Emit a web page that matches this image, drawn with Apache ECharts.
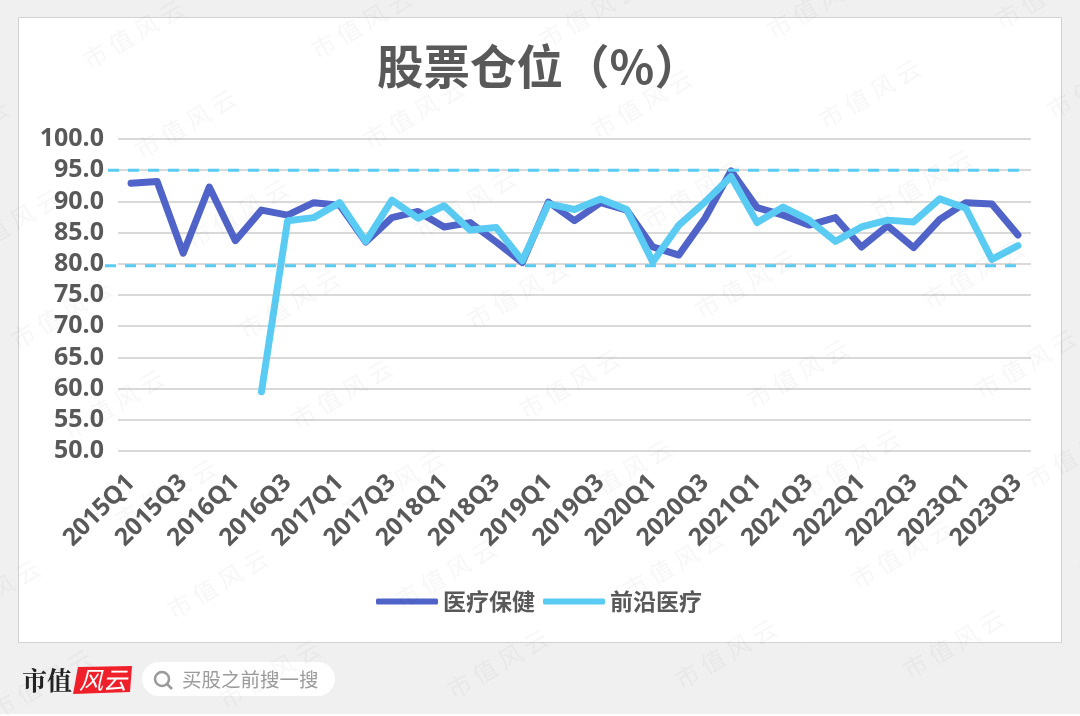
<!DOCTYPE html>
<html>
<head>
<meta charset="utf-8">
<title>股票仓位（%）</title>
<style>
  html, body { margin: 0; padding: 0; background: #fff; }
  #main { width: 1080px; height: 716px; }
</style>
<script src="https://cdn.jsdelivr.net/npm/echarts@6/dist/echarts.min.js"></script>
</head>
<body>
<div id="main"></div>
<script>
var categories = [
  '2015Q1','2015Q2','2015Q3','2015Q4','2016Q1','2016Q2','2016Q3','2016Q4',
  '2017Q1','2017Q2','2017Q3','2017Q4','2018Q1','2018Q2','2018Q3','2018Q4',
  '2019Q1','2019Q2','2019Q3','2019Q4','2020Q1','2020Q2','2020Q3','2020Q4',
  '2021Q1','2021Q2','2021Q3','2021Q4','2022Q1','2022Q2','2022Q3','2022Q4',
  '2023Q1','2023Q2','2023Q3'
];
var healthCare = [
  92.9,93.2,81.7,92.3,83.7,88.6,87.8,89.8,
  89.4,83.5,87.4,88.4,85.9,86.6,83.5,80.2,
  89.9,86.9,89.8,88.6,82.7,81.4,87.3,94.9,
  89.0,87.8,86.2,87.4,82.7,86.1,82.6,87.1,
  89.8,89.6,84.6
];
var frontierMed = [
  null,null,null,null,null,59.5,86.9,87.4,
  89.8,83.6,90.2,87.3,89.3,85.4,85.8,80.5,
  89.6,88.7,90.4,88.7,80.3,86.2,89.9,94.0,
  86.6,89.1,87.0,83.6,85.9,87.0,86.7,90.4,
  88.9,80.7,82.9
];
var upperBand = 95;
var lowerBand = 79.7;

var FONT = '"Open Sans", "Noto Sans CJK SC", sans-serif';
var CJK = '"Noto Sans CJK SC", sans-serif';
var TEXT = '#595959';
var DARK = '#4f63c8';
var LIGHT = '#5accf4';

var chart = echarts.init(document.getElementById('main'));

// 水印
var marks = [];
for (var r = -1; r < 8; r++) {
  for (var c = -2; c < 6; c++) {
    marks.push({
      type: 'text', z: 100, silent: true,
      x: 85 + c * 228 + r * 52, y: 62 - c * 10 + r * 90,
      rotation: Math.PI / 6,
      style: { text: '市 值 风 云', fill: 'rgba(90,90,90,0.05)', font: '24px ' + CJK, textVerticalAlign: 'middle' }
    });
  }
}

var decor = [
  { type: 'rect', z: -3, shape: { x: 0, y: 714, width: 1080, height: 2 }, style: { fill: '#fff' } },
  { type: 'rect', z: -2, shape: { x: 18.5, y: 17.5, width: 1043, height: 625 }, style: { fill: '#fff', stroke: '#d2d2d2', lineWidth: 1 } },
  { type: 'text', x: 22, y: 680, style: { text: '市值', fill: '#222', font: 'bold 25px "Noto Serif CJK SC", ' + CJK, textVerticalAlign: 'middle' } },
  { type: 'polygon', shape: { points: [[78,667],[132,666],[130,692],[73,694]] }, style: { fill: '#f0202a' } },
  { type: 'text', x: 79, y: 680, style: { text: '风云', fill: '#fff', font: 'italic 24px ' + CJK, textVerticalAlign: 'middle' } },
  { type: 'rect', shape: { x: 142, y: 662, width: 193, height: 34, r: 17 }, style: { fill: '#fff' } },
  { type: 'circle', shape: { cx: 162, cy: 679, r: 7 }, style: { fill: 'none', stroke: '#9a9a9a', lineWidth: 2.5 } },
  { type: 'line', shape: { x1: 167, y1: 684, x2: 172, y2: 689 }, style: { stroke: '#9a9a9a', lineWidth: 2.5 } },
  { type: 'text', x: 182, y: 680, style: { text: '买股之前搜一搜', fill: '#9c9c9c', font: '19.5px ' + CJK, textVerticalAlign: 'middle' } }
].concat(marks);

chart.setOption({
  animation: false,
  backgroundColor: '#f0f0f0',
  title: {
    text: '股票仓位（%）',
    left: 534, top: 38, textAlign: 'center',
    textStyle: { color: TEXT, fontFamily: CJK, fontWeight: 'bold', fontSize: 46.5 }
  },
  legend: {
    bottom: 98, left: 371,
    icon: 'roundRect',
    itemWidth: 62, itemHeight: 6, itemGap: 8,
    textStyle: { color: TEXT, fontFamily: CJK, fontWeight: 'bold', fontSize: 23 },
    data: ['医疗保健', '前沿医疗']
  },
  grid: { left: 118, top: 139, width: 913, height: 312 },
  xAxis: {
    type: 'category',
    data: categories,
    axisLine: { show: false },
    axisTick: { show: false },
    axisLabel: { interval: 1, rotate: 45, margin: 28, color: TEXT, fontFamily: FONT, fontWeight: 'bold', fontSize: 24.5 }
  },
  yAxis: {
    type: 'value',
    min: 50, max: 100, interval: 5,
    axisLine: { show: false },
    axisTick: { show: false },
    axisLabel: {
      margin: 14, color: TEXT, fontFamily: FONT, fontWeight: 'bold', fontSize: 25,
      formatter: function (v) { return v.toFixed(1); }
    },
    splitLine: { lineStyle: { color: '#d9d9d9', width: 2 } }
  },
  series: [
    { name: '医疗保健', type: 'line', data: healthCare, symbol: 'none', z: 3,
      itemStyle: { color: DARK },
      lineStyle: { color: DARK, width: 7, cap: 'round', join: 'round' } },
    { name: '前沿医疗', type: 'line', data: frontierMed, symbol: 'none', z: 4,
      itemStyle: { color: LIGHT },
      lineStyle: { color: LIGHT, width: 7, cap: 'round', join: 'round' } }
  ],
  graphic: decor
});

// 上下两条虚线，比网格略宽
function bandLine(value, x1, x2) {
  var y = chart.convertToPixel({ yAxisIndex: 0 }, value);
  return {
    type: 'line', z: 5,
    shape: { x1: x1, y1: y, x2: x2, y2: y },
    style: { stroke: LIGHT, lineWidth: 3, lineDash: [11, 9] }
  };
}
chart.setOption({ graphic: decor.concat([bandLine(upperBand, 108, 1026), bandLine(lowerBand, 105, 1023)]) });
</script>
</body>
</html>
